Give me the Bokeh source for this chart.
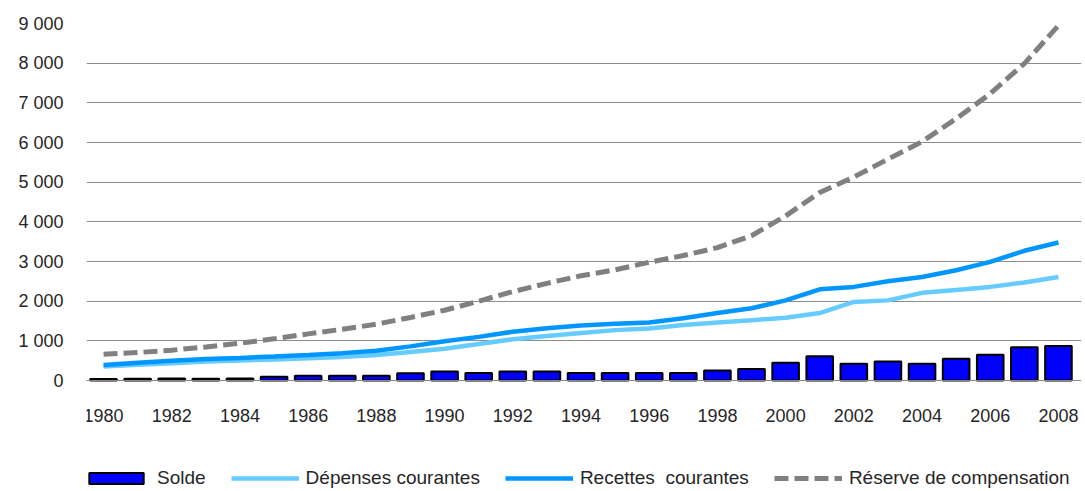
from bokeh.plotting import figure
from bokeh.models import Range1d, FixedTicker, CustomJSTickFormatter, Legend, LegendItem
from bokeh.embed import file_html
from bokeh.resources import INLINE

years = list(range(1980, 2009))
solde = [40, 45, 50, 45, 50, 95, 120, 120, 120, 185, 230, 190, 225, 225, 190, 190, 190, 190, 250, 290,
         445, 610, 420, 480, 420, 550, 650, 840, 870]
recettes = [390, 450, 500, 540, 570, 605, 645, 690, 750, 860, 990, 1100, 1230, 1320, 1385, 1430, 1460, 1570,
            1700, 1820, 2020, 2300, 2360, 2500, 2610, 2780, 2990, 3270, 3480]
depenses = [350, 395, 437, 480, 505, 530, 560, 590, 640, 720, 800, 920, 1040, 1120, 1200, 1270, 1310, 1400,
            1460, 1520, 1580, 1700, 1980, 2020, 2210, 2280, 2360, 2470, 2610]
reserve = [660, 705, 765, 845, 940, 1050, 1175, 1290, 1420, 1590, 1770, 2000, 2240, 2450, 2640, 2790, 2980,
           3150, 3350, 3650, 4150, 4740, 5130, 5580, 6020, 6600, 7230, 7990, 8950]
y_ticks = [0, 1000, 2000, 3000, 4000, 5000, 6000, 7000, 8000, 9000]
x_ticks = list(range(1980, 2009, 2))
labels = ["Solde", "Dépenses courantes", "Recettes  courantes", "Réserve de compensation"]

FONT = "Liberation Sans"
TXT = "#262626"

# layout (pixels)
TOP, LEFT = 23, 86
PLOT_W = 989          # width of the 29 year bands
EXTRA_R = 6           # spare room on the right so the last tick label is not clipped
PLOT_H = 357          # height of the 0..9000 value area
BELOW = 109           # room under the zero line for tick labels and legend
Y_MAX = 9000
y_min = -BELOW / PLOT_H * Y_MAX
x_start = years[0] - 0.5
x_end = years[-1] + 0.5 + EXTRA_R * len(years) / PLOT_W

p = figure(frame_width=PLOT_W + EXTRA_R, frame_height=PLOT_H + BELOW, output_backend="svg",
           toolbar_location=None,
           x_range=Range1d(x_start, x_end), y_range=Range1d(y_min, Y_MAX),
           min_border_left=LEFT, min_border_right=4, min_border_top=TOP, min_border_bottom=0)
p.outline_line_color = None
p.background_fill_color = "white"
p.border_fill_color = "white"

r_bar = p.vbar(x=years, top=solde, width=0.78, bottom=0, fill_color="#0000FF",
               line_color="black", line_width=2)
r_dep = p.line(years, depenses, line_color="#66CCFF", line_width=4.5)
r_rec = p.line(years, recettes, line_color="#0096FF", line_width=4.5)
r_res = p.line(years, reserve, line_color="#808080", line_width=5, line_dash="14 6")

p.xgrid.visible = False
p.ygrid.ticker = FixedTicker(ticks=y_ticks)
p.ygrid.grid_line_color = "#8c8c8c"
p.ygrid.grid_line_width = 1
p.ygrid.bounds = (x_start, years[-1] + 0.5)

p.yaxis.ticker = FixedTicker(ticks=y_ticks)
p.yaxis.formatter = CustomJSTickFormatter(
    code="return String(tick).replace(/\\B(?=(\\d{3})+(?!\\d))/g, ' ');")
p.yaxis.axis_line_color = None
p.yaxis.major_tick_line_color = None
p.yaxis.minor_tick_line_color = None
p.yaxis.major_tick_out = 0
p.yaxis.major_tick_in = 0
p.yaxis.minor_tick_out = 0
p.yaxis.major_label_standoff = 23

p.xaxis.fixed_location = 0
p.xaxis.ticker = FixedTicker(ticks=x_ticks)
p.xaxis.bounds = (x_start, years[-1] + 0.5)
p.xaxis.axis_line_color = "#868686"
p.xaxis.axis_line_width = 1
p.xaxis.major_tick_line_color = None
p.xaxis.minor_tick_line_color = None
p.xaxis.major_tick_out = 0
p.xaxis.major_tick_in = 0
p.xaxis.minor_tick_out = 0
p.xaxis.major_label_standoff = 28

for ax in (p.xaxis, p.yaxis):
    ax.major_label_text_font = FONT
    ax.major_label_text_font_size = "18px"
    ax.major_label_text_color = TXT

legend = Legend(items=[LegendItem(label=labels[0], renderers=[r_bar]),
                       LegendItem(label=labels[1], renderers=[r_dep]),
                       LegendItem(label=labels[2], renderers=[r_rec]),
                       LegendItem(label=labels[3], renderers=[r_res])],
                orientation="horizontal", location=(-4, 0))
legend.padding = 0
legend.margin = 0
legend.spacing = 25
legend.glyph_width = 68
legend.glyph_height = 14
legend.label_standoff = 7
legend.label_text_font = FONT
legend.label_text_font_size = "19px"
legend.label_text_color = TXT
legend.border_line_color = None
legend.background_fill_alpha = 0
p.add_layout(legend, "center")

open("out.html", "w").write(file_html(p, INLINE))
